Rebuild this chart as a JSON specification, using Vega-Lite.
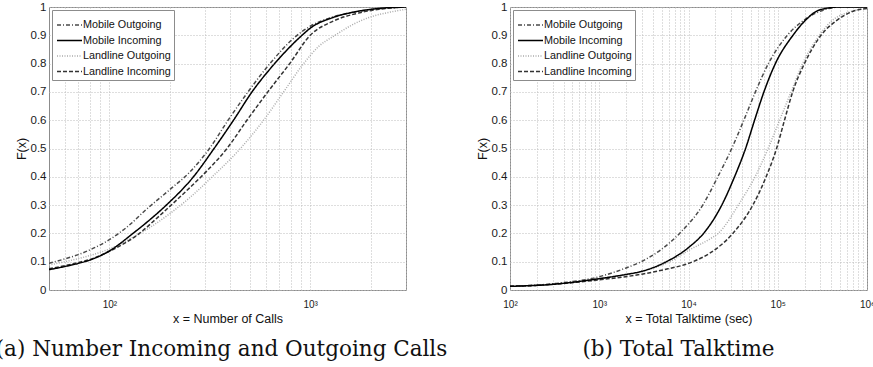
{
  "$schema": "https://vega.github.io/schema/vega-lite/v6.json",
  "autosize": {"type": "none"},
  "padding": {"left": 49, "top": 7, "right": 824, "bottom": 360},
  "background": "white",
  "datasets": {
    "calls": [
      {"series": "Landline Outgoing", "x": 50, "F": 0.088},
      {"series": "Landline Outgoing", "x": 60, "F": 0.1},
      {"series": "Landline Outgoing", "x": 70, "F": 0.111},
      {"series": "Landline Outgoing", "x": 80, "F": 0.122},
      {"series": "Landline Outgoing", "x": 100, "F": 0.145},
      {"series": "Landline Outgoing", "x": 130, "F": 0.185},
      {"series": "Landline Outgoing", "x": 160, "F": 0.222},
      {"series": "Landline Outgoing", "x": 200, "F": 0.27},
      {"series": "Landline Outgoing", "x": 250, "F": 0.325},
      {"series": "Landline Outgoing", "x": 325, "F": 0.4},
      {"series": "Landline Outgoing", "x": 449, "F": 0.5},
      {"series": "Landline Outgoing", "x": 586, "F": 0.6},
      {"series": "Landline Outgoing", "x": 737, "F": 0.7},
      {"series": "Landline Outgoing", "x": 927, "F": 0.8},
      {"series": "Landline Outgoing", "x": 1100, "F": 0.86},
      {"series": "Landline Outgoing", "x": 1330, "F": 0.9},
      {"series": "Landline Outgoing", "x": 1600, "F": 0.935},
      {"series": "Landline Outgoing", "x": 2000, "F": 0.965},
      {"series": "Landline Outgoing", "x": 2500, "F": 0.982},
      {"series": "Landline Outgoing", "x": 3000, "F": 0.992},
      {"series": "Landline Incoming", "x": 50, "F": 0.075},
      {"series": "Landline Incoming", "x": 60, "F": 0.086},
      {"series": "Landline Incoming", "x": 70, "F": 0.097},
      {"series": "Landline Incoming", "x": 80, "F": 0.108},
      {"series": "Landline Incoming", "x": 100, "F": 0.137},
      {"series": "Landline Incoming", "x": 141, "F": 0.2},
      {"series": "Landline Incoming", "x": 170, "F": 0.25},
      {"series": "Landline Incoming", "x": 203, "F": 0.3},
      {"series": "Landline Incoming", "x": 250, "F": 0.36},
      {"series": "Landline Incoming", "x": 305, "F": 0.42},
      {"series": "Landline Incoming", "x": 385, "F": 0.5},
      {"series": "Landline Incoming", "x": 484, "F": 0.6},
      {"series": "Landline Incoming", "x": 615, "F": 0.7},
      {"series": "Landline Incoming", "x": 790, "F": 0.8},
      {"series": "Landline Incoming", "x": 1000, "F": 0.9},
      {"series": "Landline Incoming", "x": 1300, "F": 0.95},
      {"series": "Landline Incoming", "x": 1700, "F": 0.977},
      {"series": "Landline Incoming", "x": 2200, "F": 0.992},
      {"series": "Landline Incoming", "x": 3000, "F": 1.0},
      {"series": "Mobile Outgoing", "x": 50, "F": 0.094},
      {"series": "Mobile Outgoing", "x": 60, "F": 0.11},
      {"series": "Mobile Outgoing", "x": 70, "F": 0.125},
      {"series": "Mobile Outgoing", "x": 80, "F": 0.142},
      {"series": "Mobile Outgoing", "x": 100, "F": 0.178},
      {"series": "Mobile Outgoing", "x": 125, "F": 0.228},
      {"series": "Mobile Outgoing", "x": 150, "F": 0.28},
      {"series": "Mobile Outgoing", "x": 200, "F": 0.355},
      {"series": "Mobile Outgoing", "x": 250, "F": 0.415},
      {"series": "Mobile Outgoing", "x": 315, "F": 0.5},
      {"series": "Mobile Outgoing", "x": 390, "F": 0.6},
      {"series": "Mobile Outgoing", "x": 490, "F": 0.7},
      {"series": "Mobile Outgoing", "x": 630, "F": 0.8},
      {"series": "Mobile Outgoing", "x": 860, "F": 0.9},
      {"series": "Mobile Outgoing", "x": 1000, "F": 0.932},
      {"series": "Mobile Outgoing", "x": 1300, "F": 0.965},
      {"series": "Mobile Outgoing", "x": 1700, "F": 0.983},
      {"series": "Mobile Outgoing", "x": 2200, "F": 0.994},
      {"series": "Mobile Outgoing", "x": 3000, "F": 1.0},
      {"series": "Mobile Incoming", "x": 50, "F": 0.072},
      {"series": "Mobile Incoming", "x": 60, "F": 0.083},
      {"series": "Mobile Incoming", "x": 70, "F": 0.094},
      {"series": "Mobile Incoming", "x": 80, "F": 0.106},
      {"series": "Mobile Incoming", "x": 100, "F": 0.138},
      {"series": "Mobile Incoming", "x": 131, "F": 0.2},
      {"series": "Mobile Incoming", "x": 160, "F": 0.25},
      {"series": "Mobile Incoming", "x": 192, "F": 0.3},
      {"series": "Mobile Incoming", "x": 262, "F": 0.4},
      {"series": "Mobile Incoming", "x": 332, "F": 0.5},
      {"series": "Mobile Incoming", "x": 415, "F": 0.6},
      {"series": "Mobile Incoming", "x": 513, "F": 0.7},
      {"series": "Mobile Incoming", "x": 665, "F": 0.8},
      {"series": "Mobile Incoming", "x": 910, "F": 0.9},
      {"series": "Mobile Incoming", "x": 1000, "F": 0.925},
      {"series": "Mobile Incoming", "x": 1300, "F": 0.963},
      {"series": "Mobile Incoming", "x": 1700, "F": 0.984},
      {"series": "Mobile Incoming", "x": 2200, "F": 0.995},
      {"series": "Mobile Incoming", "x": 3000, "F": 1.0}
    ],
    "talk": [
      {"series": "Landline Outgoing", "x": 100, "F": 0.013},
      {"series": "Landline Outgoing", "x": 300, "F": 0.02},
      {"series": "Landline Outgoing", "x": 1000, "F": 0.04},
      {"series": "Landline Outgoing", "x": 3000, "F": 0.066},
      {"series": "Landline Outgoing", "x": 6150, "F": 0.1},
      {"series": "Landline Outgoing", "x": 10000, "F": 0.14},
      {"series": "Landline Outgoing", "x": 17300, "F": 0.18},
      {"series": "Landline Outgoing", "x": 21500, "F": 0.2},
      {"series": "Landline Outgoing", "x": 37800, "F": 0.31},
      {"series": "Landline Outgoing", "x": 55700, "F": 0.4},
      {"series": "Landline Outgoing", "x": 78000, "F": 0.5},
      {"series": "Landline Outgoing", "x": 105000, "F": 0.6},
      {"series": "Landline Outgoing", "x": 141000, "F": 0.7},
      {"series": "Landline Outgoing", "x": 190000, "F": 0.8},
      {"series": "Landline Outgoing", "x": 293000, "F": 0.9},
      {"series": "Landline Outgoing", "x": 400000, "F": 0.95},
      {"series": "Landline Outgoing", "x": 600000, "F": 0.98},
      {"series": "Landline Outgoing", "x": 1000000, "F": 0.995},
      {"series": "Landline Incoming", "x": 100, "F": 0.013},
      {"series": "Landline Incoming", "x": 300, "F": 0.02},
      {"series": "Landline Incoming", "x": 1000, "F": 0.036},
      {"series": "Landline Incoming", "x": 3000, "F": 0.056},
      {"series": "Landline Incoming", "x": 5000, "F": 0.07},
      {"series": "Landline Incoming", "x": 11200, "F": 0.1},
      {"series": "Landline Incoming", "x": 17300, "F": 0.13},
      {"series": "Landline Incoming", "x": 31400, "F": 0.2},
      {"series": "Landline Incoming", "x": 52600, "F": 0.3},
      {"series": "Landline Incoming", "x": 74100, "F": 0.4},
      {"series": "Landline Incoming", "x": 97000, "F": 0.5},
      {"series": "Landline Incoming", "x": 119000, "F": 0.6},
      {"series": "Landline Incoming", "x": 147000, "F": 0.7},
      {"series": "Landline Incoming", "x": 199000, "F": 0.8},
      {"series": "Landline Incoming", "x": 305000, "F": 0.9},
      {"series": "Landline Incoming", "x": 447000, "F": 0.95},
      {"series": "Landline Incoming", "x": 700000, "F": 0.985},
      {"series": "Landline Incoming", "x": 1000000, "F": 0.995},
      {"series": "Mobile Outgoing", "x": 100, "F": 0.013},
      {"series": "Mobile Outgoing", "x": 300, "F": 0.022},
      {"series": "Mobile Outgoing", "x": 1000, "F": 0.047},
      {"series": "Mobile Outgoing", "x": 2000, "F": 0.078},
      {"series": "Mobile Outgoing", "x": 2950, "F": 0.1},
      {"series": "Mobile Outgoing", "x": 7940, "F": 0.2},
      {"series": "Mobile Outgoing", "x": 14450, "F": 0.3},
      {"series": "Mobile Outgoing", "x": 21300, "F": 0.4},
      {"series": "Mobile Outgoing", "x": 30500, "F": 0.5},
      {"series": "Mobile Outgoing", "x": 41700, "F": 0.6},
      {"series": "Mobile Outgoing", "x": 56200, "F": 0.7},
      {"series": "Mobile Outgoing", "x": 78500, "F": 0.8},
      {"series": "Mobile Outgoing", "x": 128000, "F": 0.9},
      {"series": "Mobile Outgoing", "x": 200000, "F": 0.955},
      {"series": "Mobile Outgoing", "x": 331000, "F": 0.99},
      {"series": "Mobile Outgoing", "x": 500000, "F": 1.0},
      {"series": "Mobile Outgoing", "x": 1000000, "F": 1.0},
      {"series": "Mobile Incoming", "x": 100, "F": 0.013},
      {"series": "Mobile Incoming", "x": 300, "F": 0.02},
      {"series": "Mobile Incoming", "x": 1000, "F": 0.04},
      {"series": "Mobile Incoming", "x": 2000, "F": 0.055},
      {"series": "Mobile Incoming", "x": 3000, "F": 0.066},
      {"series": "Mobile Incoming", "x": 5650, "F": 0.1},
      {"series": "Mobile Incoming", "x": 10000, "F": 0.15},
      {"series": "Mobile Incoming", "x": 15200, "F": 0.205},
      {"series": "Mobile Incoming", "x": 23600, "F": 0.3},
      {"series": "Mobile Incoming", "x": 32800, "F": 0.4},
      {"series": "Mobile Incoming", "x": 43600, "F": 0.5},
      {"series": "Mobile Incoming", "x": 55000, "F": 0.6},
      {"series": "Mobile Incoming", "x": 70000, "F": 0.7},
      {"series": "Mobile Incoming", "x": 94000, "F": 0.8},
      {"series": "Mobile Incoming", "x": 148000, "F": 0.9},
      {"series": "Mobile Incoming", "x": 200000, "F": 0.95},
      {"series": "Mobile Incoming", "x": 296000, "F": 0.99},
      {"series": "Mobile Incoming", "x": 500000, "F": 1.0},
      {"series": "Mobile Incoming", "x": 1000000, "F": 1.0}
    ]
  },
  "config": {
    "view": {"stroke": "#8c8c8c", "strokeWidth": 1},
    "font": "Liberation Sans",
    "axis": {
      "domain": false, "ticks": false, "grid": true,
      "gridColor": "#bdbdbd", "gridDash": [1, 2], "gridWidth": 1,
      "labelFont": "Liberation Sans", "labelColor": "#1a1a1a",
      "titleFont": "Liberation Sans", "titleFontWeight": "normal", "titleColor": "#111111",
      "labelOverlap": false, "labelFlush": false, "labelBound": false
    },
    "axisX": {"labelFontSize": 10, "labelPadding": 9, "titleFontSize": 12.5, "titlePadding": 3},
    "axisY": {"labelFontSize": 11.5, "labelPadding": 3, "titleFontSize": 12.5, "titlePadding": 2},
    "legend": {
      "orient": "top-left", "offset": 3, "fillColor": "white", "strokeColor": "#8c8c8c",
      "padding": 3, "cornerRadius": 0, "symbolType": "M-2.5,0L2.5,0", "symbolSize": 100,
      "symbolStrokeWidth": 1.5, "symbolFillColor": "transparent", "symbolOffset": 8.5,
      "labelFont": "Liberation Sans", "labelFontSize": 10.8,
      "labelColor": "#111111", "labelOffset": 7.5, "rowPadding": 4.5,
      "titleFontSize": 1, "titlePadding": 5
    },
    "title": {"font": "DejaVu Serif", "fontSize": 21.5, "fontWeight": "normal", "color": "#111111", "orient": "bottom", "offset": 14}
  },
  "spacing": 104,
  "bounds": "flush",
  "hconcat": [
    {
      "width": 357,
      "height": 283,
      "data": {"name": "calls"},
      "title": {"text": "(a) Number Incoming and Outgoing Calls", "orient": "bottom", "anchor": "middle", "dx": -6},
      "mark": {"type": "line", "interpolate": "monotone", "strokeWidth": 1.5, "clip": true},
      "encoding": {
        "x": {
          "field": "x", "type": "quantitative",
          "scale": {"type": "log", "domain": [50, 3000], "nice": false},
          "axis": {
            "title": "x = Number of Calls",
            "values": [60, 70, 80, 90, 100, 200, 300, 400, 500, 600, 700, 800, 900, 1000, 2000, 3000],
            "labelExpr": "datum.value == 100 ? '10²' : datum.value == 1000 ? '10³' : ''"
          }
        },
        "y": {
          "field": "F", "type": "quantitative",
          "scale": {"domain": [0, 1], "nice": false},
          "axis": {"title": "F(x)", "values": [0, 0.1, 0.2, 0.3, 0.4, 0.5, 0.6, 0.7, 0.8, 0.9, 1], "format": ".1~f"}
        },
        "color": {
          "field": "series", "type": "nominal",
          "scale": {"domain": ["Mobile Outgoing", "Mobile Incoming", "Landline Outgoing", "Landline Incoming"], "range": ["#4a4a4a", "#000000", "#ababab", "#333333"]},
          "legend": {"title": " "}
        },
        "strokeDash": {
          "field": "series", "type": "nominal",
          "scale": {"domain": ["Mobile Outgoing", "Mobile Incoming", "Landline Outgoing", "Landline Incoming"], "range": [[4, 2, 1, 2], [1, 0], [1, 1.5], [4, 2]]},
          "legend": {"title": " "}
        }
      }
    },
    {
      "width": 357,
      "height": 283,
      "data": {"name": "talk"},
      "title": {"text": "(b) Total Talktime", "orient": "bottom", "anchor": "middle", "dx": -10},
      "mark": {"type": "line", "interpolate": "monotone", "strokeWidth": 1.5, "clip": true},
      "encoding": {
        "x": {
          "field": "x", "type": "quantitative",
          "scale": {"type": "log", "domain": [100, 1000000], "nice": false},
          "axis": {
            "title": "x = Total Talktime (sec)",
            "values": [100, 200, 300, 400, 500, 600, 700, 800, 900, 1000, 2000, 3000, 4000, 5000, 6000, 7000, 8000, 9000, 10000, 20000, 30000, 40000, 50000, 60000, 70000, 80000, 90000, 100000, 200000, 300000, 400000, 500000, 600000, 700000, 800000, 900000, 1000000],
            "labelExpr": "datum.value == 100 ? '10²' : datum.value == 1000 ? '10³' : datum.value == 10000 ? '10⁴' : datum.value == 100000 ? '10⁵' : datum.value == 1000000 ? '10⁶' : ''"
          }
        },
        "y": {
          "field": "F", "type": "quantitative",
          "scale": {"domain": [0, 1], "nice": false},
          "axis": {"title": "F(x)", "values": [0, 0.1, 0.2, 0.3, 0.4, 0.5, 0.6, 0.7, 0.8, 0.9, 1], "format": ".1~f"}
        },
        "color": {
          "field": "series", "type": "nominal",
          "scale": {"domain": ["Mobile Outgoing", "Mobile Incoming", "Landline Outgoing", "Landline Incoming"], "range": ["#4a4a4a", "#000000", "#ababab", "#333333"]},
          "legend": {"title": " "}
        },
        "strokeDash": {
          "field": "series", "type": "nominal",
          "scale": {"domain": ["Mobile Outgoing", "Mobile Incoming", "Landline Outgoing", "Landline Incoming"], "range": [[4, 2, 1, 2], [1, 0], [1, 1.5], [4, 2]]},
          "legend": {"title": " "}
        }
      }
    }
  ],
  "resolve": {"scale": {"color": "independent", "strokeDash": "independent"}, "legend": {"color": "independent", "strokeDash": "independent"}}
}
